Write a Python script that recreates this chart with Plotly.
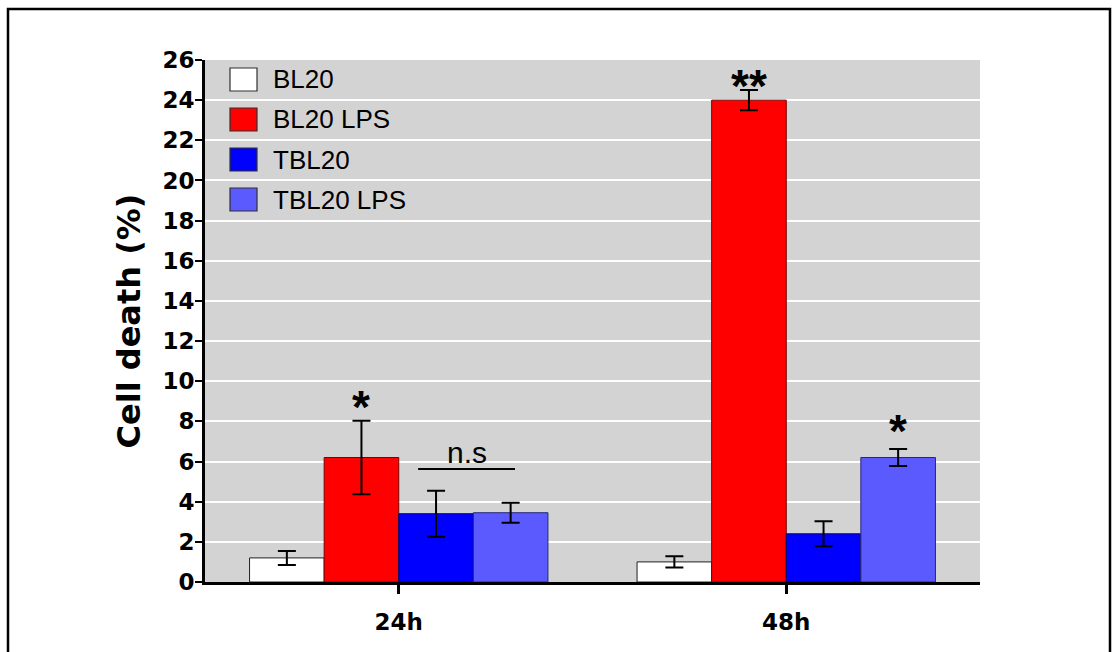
import plotly.graph_objects as go

# ---------------- data ----------------
categories = ["24h", "48h"]
series_names = ["BL20", "BL20 LPS", "TBL20", "TBL20 LPS"]
bl20 = [1.2, 1.0]
bl20_lps = [6.2, 24.0]
tbl20 = [3.4, 2.4]
tbl20_lps = [3.45, 6.2]
bl20_err = [0.35, 0.28]
bl20_lps_err = [1.83, 0.5]
tbl20_err = [1.14, 0.62]
tbl20_lps_err = [0.5, 0.42]

# significance marks: (category index, series index, label, y position)
sig_cat = [0, 1, 1]
sig_series = [1, 1, 3]
sig_label = ["*", "**", "*"]
sig_y = [9.0, 25.0, 7.8]
# n.s bracket (24h, between TBL20 and TBL20 LPS)
ns_y = 5.63

values = [bl20, bl20_lps, tbl20, tbl20_lps]
errors = [bl20_err, bl20_lps_err, tbl20_err, tbl20_lps_err]

# ---------------- style ----------------
fills = ["#ffffff", "#ff0000", "#0000ff", "#5a5aff"]
edges = ["#202020", "#7a0000", "#00006a", "#26267a"]
W, H = 1112, 652
L, R, T, B = 205, 132, 60, 70
PW, PH = W - L - R, H - T - B
BARGAP = 0.23
NB = len(series_names)
BW = (1 - BARGAP) / NB

def px_x(p):
    return (p - L) / PW

def px_y(p):
    return (H - B - p) / PH

SANS = "Liberation Sans"
WIDE = "DejaVu Sans"

fig = go.Figure()
for i, name in enumerate(series_names):
    fig.add_bar(
        x=categories, y=values[i], name=name, showlegend=False,
        marker=dict(color=fills[i], line=dict(color=edges[i], width=1)),
        error_y=dict(type="data", array=errors[i], color="black",
                     thickness=2, width=9),
    )

shapes = []
annotations = []

# outer frame
shapes.append(dict(type="rect", xref="paper", yref="paper",
                   x0=px_x(8), x1=px_x(1110), y0=px_y(700), y1=px_y(9),
                   line=dict(color="black", width=2.5), fillcolor="rgba(0,0,0,0)",
                   layer="above"))

# manual legend
for i, name in enumerate(series_names):
    cy = 79.5 + 40 * i
    shapes.append(dict(type="rect", xref="paper", yref="paper",
                       x0=px_x(230), x1=px_x(257), y0=px_y(cy + 11.5), y1=px_y(cy - 11.5),
                       fillcolor=fills[i], line=dict(color="#303030", width=1.2),
                       layer="above"))
    annotations.append(dict(xref="paper", yref="paper", x=px_x(271), y=px_y(cy),
                            xanchor="left", yanchor="middle", showarrow=False,
                            text=name, font=dict(family=SANS, size=26, color="black")))

# significance asterisks
for c, s, lab, yv in zip(sig_cat, sig_series, sig_label, sig_y):
    xoff = c + (s - (NB - 1) / 2) * BW
    annotations.append(dict(xref="x", yref="y", x=xoff, y=yv, showarrow=False,
                            xanchor="center", yanchor="middle", yshift=-6,
                            text="<b>%s</b>" % lab,
                            font=dict(family=SANS, size=46, color="black")))

# n.s bracket
shapes.append(dict(type="line", xref="x", yref="y", x0=0.05, x1=0.30,
                   y0=ns_y, y1=ns_y, line=dict(color="black", width=2)))
annotations.append(dict(xref="x", yref="y", x=0.176, y=ns_y, showarrow=False,
                        xanchor="center", yanchor="bottom", yshift=-2,
                        text="n.s", font=dict(family=SANS, size=30, color="black")))

fig.update_layout(
    width=W, height=H, autosize=False,
    margin=dict(l=L, r=R, t=T, b=B, pad=0),
    paper_bgcolor="white", plot_bgcolor="#d3d3d3",
    barmode="group", bargap=BARGAP, bargroupgap=0,
    shapes=shapes, annotations=annotations,
    font=dict(family=SANS, color="black"),
)
fig.update_yaxes(
    range=[0, 26], dtick=2, tick0=0,
    showgrid=True, gridcolor="white", gridwidth=2, zeroline=False,
    showline=True, linecolor="black", linewidth=3,
    ticks="outside", ticklen=7, tickwidth=2, tickcolor="black",
    tickfont=dict(family=WIDE, size=23, color="black", weight="bold"),
    ticklabelstandoff=-4,
    title=dict(text="<b>Cell death (%)</b>", standoff=13,
               font=dict(family=WIDE, size=32, color="black")),
)
fig.update_xaxes(
    showgrid=False, zeroline=False,
    showline=True, linecolor="black", linewidth=3,
    ticks="outside", ticklen=9, tickwidth=3, tickcolor="black",
    tickfont=dict(family=WIDE, size=23, color="black", weight="bold"),
    ticklabelstandoff=8,
)

fig.write_html("out.html")
